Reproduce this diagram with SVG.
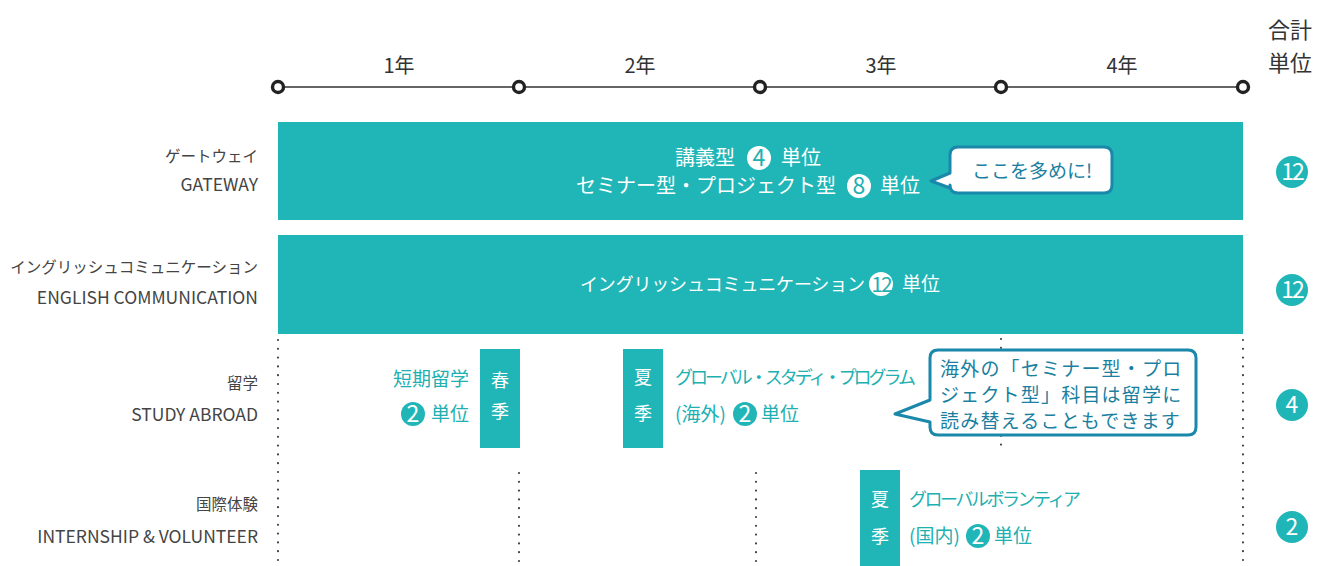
<svg xmlns="http://www.w3.org/2000/svg" width="1320" height="566" viewBox="0 0 1320 566">
<defs>
<style>
text{font-family:"Noto Sans CJK JP","Noto Sans",sans-serif}
.bar{fill:#20b6b7}
.wt{fill:#ffffff}
.tt{fill:#20b0b1}
.dk{fill:#333333}
.lbl{fill:#444444;font-size:15.5px;text-anchor:end}
.en{font-size:17.5px}
.yr{fill:#333333;font-size:20px;text-anchor:middle}
.dot{stroke:#444444;stroke-width:2.2;stroke-linecap:round;stroke-dasharray:0 8.8;fill:none}
.node{fill:#ffffff;stroke:#222222;stroke-width:3.4}
.bub{fill:#ffffff;stroke:#1a88aa;stroke-width:3;stroke-linejoin:round}
.bt{fill:#1a7fa0}
.num{font-size:23px;text-anchor:middle}
.tot{font-size:23px;text-anchor:middle}
</style>
</defs>
<rect width="1320" height="566" fill="#ffffff"/>

<g id="connectors">
<line x1="278" y1="87" x2="1243" y2="87" stroke="#333333" stroke-width="1.6"/>
<line class="dot" x1="278" y1="340" x2="278" y2="566"/>
<line class="dot" x1="1243" y1="340" x2="1243" y2="566"/>
<line class="dot" x1="519" y1="473" x2="519" y2="566"/>
<line class="dot" x1="756" y1="473" x2="756" y2="566"/>
<line class="dot" x1="1001" y1="339" x2="1001" y2="452"/>
</g>

<g id="timeline">
<circle class="node" cx="278" cy="87" r="5.5"/>
<circle class="node" cx="519" cy="87" r="5.5"/>
<circle class="node" cx="760" cy="87" r="5.5"/>
<circle class="node" cx="1001" cy="87" r="5.5"/>
<circle class="node" cx="1243" cy="87" r="5.5"/>
<text class="yr" x="399" y="73">1年</text>
<text class="yr" x="640" y="73">2年</text>
<text class="yr" x="881" y="73">3年</text>
<text class="yr" x="1122" y="73">4年</text>
<text class="dk" x="1290" y="38" font-size="22" text-anchor="middle">合計</text>
<text class="dk" x="1290" y="71" font-size="22" text-anchor="middle">単位</text>
</g>

<g id="labels">
<text class="lbl" x="258" y="162">ゲートウェイ</text>
<text class="lbl en" x="258" y="191">GATEWAY</text>
<text class="lbl" x="258" y="273">イングリッシュコミュニケーション</text>
<text class="lbl en" x="258" y="304">ENGLISH COMMUNICATION</text>
<text class="lbl" x="258" y="389">留学</text>
<text class="lbl en" x="258" y="421">STUDY ABROAD</text>
<text class="lbl" x="258" y="510">国際体験</text>
<text class="lbl en" x="258" y="543">INTERNSHIP &amp; VOLUNTEER</text>
</g>

<g id="gateway">
<rect class="bar" x="278" y="122" width="965" height="98"/>
<text class="wt" x="675" y="165" font-size="20">講義型</text>
<circle cx="759" cy="158" r="12" fill="#ffffff"/>
<text class="tt num" x="759" y="166">4</text>
<text class="wt" x="781" y="165" font-size="20">単位</text>
<text class="wt" x="576" y="193" font-size="20">セミナー型・プロジェクト型</text>
<circle cx="859" cy="186" r="12" fill="#ffffff"/>
<text class="tt num" x="859" y="194">8</text>
<text class="wt" x="880" y="193" font-size="20">単位</text>
</g>

<g id="bubble-gateway">
<path class="bub" d="M958,147 H1104 Q1112,147 1112,155 V185 Q1112,193 1104,193 H958 Q950,193 950,185 V188 L931,181 L950,173 V155 Q950,147 958,147 Z"/>
<text class="bt" x="1032" y="178" font-size="19" text-anchor="middle">ここを多めに!</text>
</g>

<g id="english">
<rect class="bar" x="278" y="235" width="965" height="99"/>
<text class="wt" x="580" y="291" font-size="18" textLength="285">イングリッシュコミュニケーション</text>
<circle cx="881" cy="284" r="12" fill="#ffffff"/>
<text class="tt" x="881" y="291.5" font-size="21" text-anchor="middle" letter-spacing="-2">12</text>
<text class="wt" x="902" y="291" font-size="19">単位</text>
</g>

<g id="short-study">
<text class="tt" x="469" y="386" font-size="19" text-anchor="end">短期留学</text>
<circle cx="413" cy="414" r="12" fill="#20b6b7"/>
<text class="wt num" x="413" y="422">2</text>
<text class="tt" x="469" y="421" font-size="19" text-anchor="end">単位</text>
<rect class="bar" x="480" y="349" width="40" height="99"/>
<text class="wt" x="500" y="387" font-size="18" text-anchor="middle">春</text>
<text class="wt" x="500" y="418" font-size="18" text-anchor="middle">季</text>
</g>

<g id="global-study">
<rect class="bar" x="623" y="349" width="40" height="99"/>
<text class="wt" x="643" y="384" font-size="18" text-anchor="middle">夏</text>
<text class="wt" x="643" y="420" font-size="18" text-anchor="middle">季</text>
<text class="tt" x="675" y="384" font-size="18" textLength="241">グローバル・スタディ・プログラム</text>
<text class="tt" x="675" y="421" font-size="19">(海外)</text>
<circle cx="745" cy="414" r="12" fill="#20b6b7"/>
<text class="wt num" x="745" y="422">2</text>
<text class="tt" x="761" y="421" font-size="19">単位</text>
</g>

<g id="bubble-study">
<path class="bub" d="M938,350 H1188 Q1196,350 1196,358 V427 Q1196,435 1188,435 H938 Q930,435 930,427 V422 L895,414 L930,400 V358 Q930,350 938,350 Z"/>
<text class="bt" x="940" y="376" font-size="19" letter-spacing="1.2">海外の「セミナー型・プロ</text>
<text class="bt" x="940" y="402" font-size="19" letter-spacing="1.2">ジェクト型」科目は留学に</text>
<text class="bt" x="940" y="428" font-size="19" letter-spacing="1.2">読み替えることもできます</text>
</g>

<g id="volunteer">
<rect class="bar" x="860" y="470" width="40" height="96"/>
<text class="wt" x="880" y="506" font-size="18" text-anchor="middle">夏</text>
<text class="wt" x="880" y="543" font-size="18" text-anchor="middle">季</text>
<text class="tt" x="909" y="506" font-size="18" textLength="172">グローバルボランティア</text>
<text class="tt" x="909" y="543" font-size="19">(国内)</text>
<circle cx="978" cy="536" r="12" fill="#20b6b7"/>
<text class="wt num" x="978" y="544">2</text>
<text class="tt" x="994" y="543" font-size="19">単位</text>
</g>

<g id="totals">
<circle cx="1292" cy="172" r="16" fill="#20b6b7"/>
<text class="wt tot" x="1292" y="180" letter-spacing="-2">12</text>
<circle cx="1292" cy="290" r="16" fill="#20b6b7"/>
<text class="wt tot" x="1292" y="298" letter-spacing="-2">12</text>
<circle cx="1292" cy="405" r="16" fill="#20b6b7"/>
<text class="wt tot" x="1292" y="413">4</text>
<circle cx="1292" cy="527" r="16" fill="#20b6b7"/>
<text class="wt tot" x="1292" y="535">2</text>
</g>
</svg>
